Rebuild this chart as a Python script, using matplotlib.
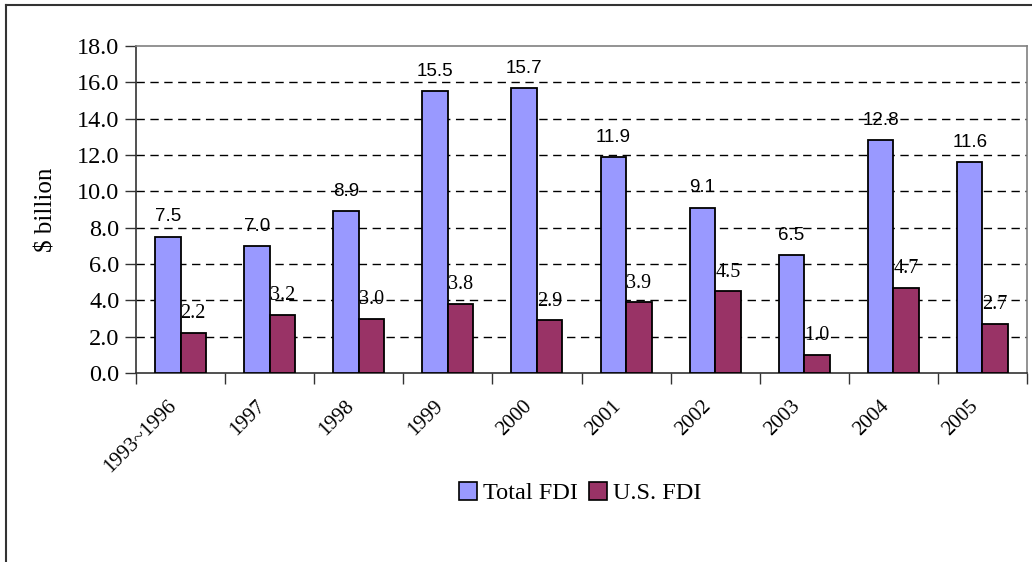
import matplotlib
matplotlib.use("Agg")
import matplotlib.pyplot as plt
from matplotlib.lines import Line2D
from matplotlib.patches import Patch
from matplotlib.transforms import ScaledTranslation
import numpy as np

categories = ["1993~1996", "1997", "1998", "1999", "2000", "2001", "2002", "2003", "2004", "2005"]
total_fdi = [7.5, 7.0, 8.9, 15.5, 15.7, 11.9, 9.1, 6.5, 12.8, 11.6]
us_fdi = [2.2, 3.2, 3.0, 3.8, 2.9, 3.9, 4.5, 1.0, 4.7, 2.7]
series_names = ["Total FDI", "U.S. FDI"]
colors = ["#9999FF", "#993366"]
yticks = [0, 2, 4, 6, 8, 10, 12, 14, 16, 18]

serif = ["Liberation Serif", "DejaVu Serif"]
sans = ["Liberation Sans", "DejaVu Sans"]

fig = plt.figure(figsize=(10.32, 5.62), dpi=100)
ax = fig.add_axes([136/1032, 1-373/562, (1027-136)/1032, (373-46)/562])

x = np.arange(len(categories))
w = 0.286
ax.bar(x - w/2, total_fdi, w, color=colors[0], edgecolor="black", linewidth=1.3, zorder=3)
ax.bar(x + w/2, us_fdi, w, color=colors[1], edgecolor="black", linewidth=1.3, zorder=3)

for xi, v in zip(x - w/2, total_fdi):
    ax.annotate(f"{v:.1f}", (xi, v), xytext=(0, 11), textcoords="offset points",
                ha="center", va="baseline", fontsize=13.5, family=sans, zorder=4)
for xi, v in zip(x + w/2, us_fdi):
    ax.annotate(f"{v:.1f}", (xi, v), xytext=(0, 10.5), textcoords="offset points",
                ha="center", va="baseline", fontsize=14.5, family=serif, zorder=4)

ax.set_xlim(-0.5, len(categories) - 0.5)
ax.set_ylim(0, 18)
ax.set_yticks(yticks)
ax.set_yticklabels([f"{t:.1f}" for t in yticks], family=serif, fontsize=17.5)
for t in yticks[1:-1]:
    ax.axhline(t, color="black", linestyle=(0, (6, 4)), linewidth=1.0, zorder=1)

ax.set_xticks(np.arange(len(categories) + 1) - 0.5)
ax.set_xticklabels([])
ax.set_xticks(x, minor=True)
ax.set_xticklabels(categories, minor=True, rotation=45, ha="right", va="top",
                   rotation_mode="anchor", family=serif, fontsize=15)
ax.tick_params(axis="x", which="minor", length=0, pad=14)
ax.tick_params(axis="x", which="major", length=8, width=1, direction="out", color="#333333")
ax.tick_params(axis="y", length=8, width=1, direction="out", color="#333333", pad=4)
shift = ScaledTranslation(-0.14, -0.04, fig.dpi_scale_trans)
for lab in ax.get_xticklabels(minor=True):
    lab.set_transform(lab.get_transform() + shift)

ax.set_ylabel("$ billion", family=serif, fontsize=18, labelpad=14)

for s in ["top", "right"]:
    ax.spines[s].set_color("#808080")
    ax.spines[s].set_linewidth(1.2)
for s in ["left", "bottom"]:
    ax.spines[s].set_color("#333333")
    ax.spines[s].set_linewidth(1.2)

handles = [Patch(facecolor=colors[0], edgecolor="black", linewidth=1.2),
           Patch(facecolor=colors[1], edgecolor="black", linewidth=1.2)]
fig.legend(handles, series_names, loc="center", bbox_to_anchor=(580/1032, 1-493/562),
           ncol=2, frameon=False, prop={"family": serif, "size": 17.5},
           handlelength=0.75, handleheight=0.75, handletextpad=0.25, columnspacing=0.45)

fig.add_artist(Line2D([6/1032, 1.0], [1-5/562, 1-5/562], color="#333333", linewidth=1.5,
                      transform=fig.transFigure))
fig.add_artist(Line2D([6/1032, 6/1032], [0.0, 1-5/562], color="#333333", linewidth=1.5,
                      transform=fig.transFigure))

fig.savefig("out.png", dpi=100)
